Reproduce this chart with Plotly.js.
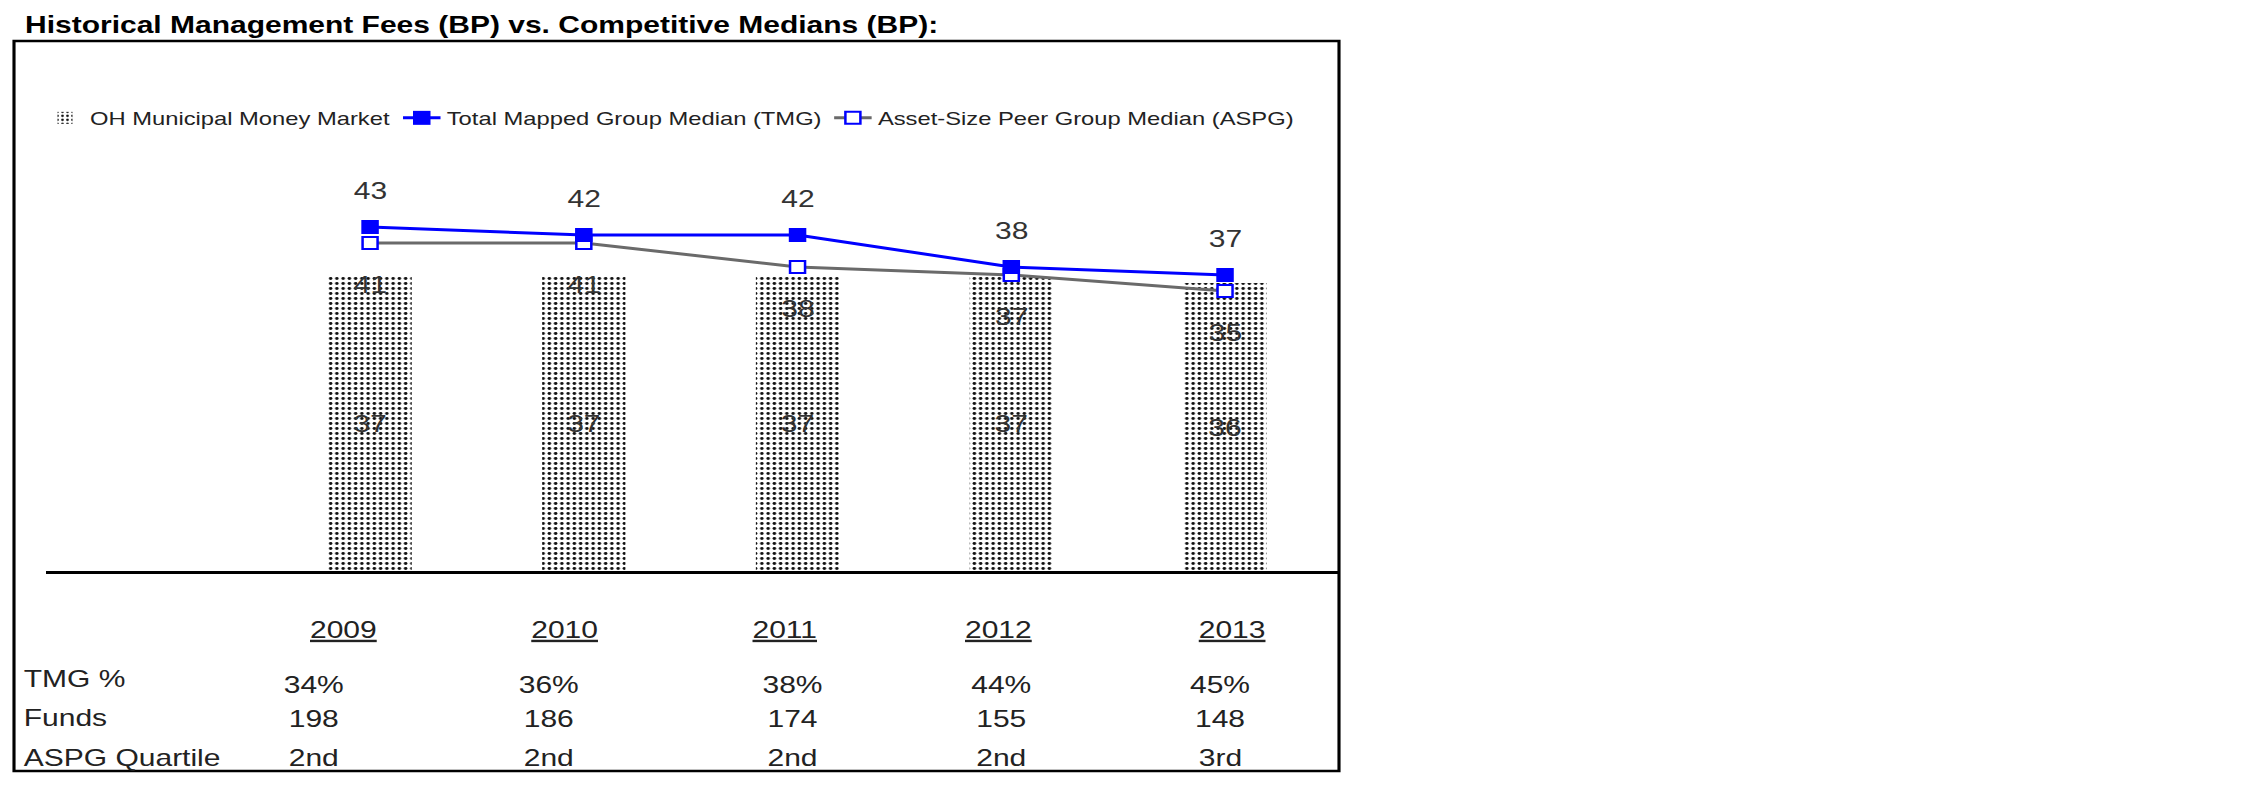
<!DOCTYPE html>
<html><head><meta charset="utf-8">
<script src="https://cdn.plot.ly/plotly-3.0.1.min.js"></script>
<style>
html,body{margin:0;padding:0;background:#fff;overflow:hidden;}
#wrap{width:2250px;height:796px;overflow:hidden;position:relative;}
#chart{width:1800px;height:796px;transform:scale(1.25,1);transform-origin:0 0;}
</style></head><body>
<div id="wrap"><div id="chart"></div></div>
<script>
// ---- data ----
const years = ['2009','2010','2011','2012','2013'];
const fundFees = [37, 37, 37, 37, 36];
const tmgMedian = [43, 42, 42, 38, 37];
const aspgMedian = [41, 41, 38, 37, 35];
const tmgPct = ['34%','36%','38%','44%','45%'];
const fundsCount = [198, 186, 174, 155, 148];
const aspgQuartile = ['2nd','2nd','2nd','2nd','3rd'];
const rowLabels = ['TMG %','Funds','ASPG Quartile'];
const seriesNames = ['OH Municipal Money Market','Total Mapped Group Median (TMG)','Asset-Size Peer Group Median (ASPG)'];
const chartTitle = 'Historical Management Fees (BP) vs. Competitive Medians (BP):';

// ---- layout helpers (page is stretched horizontally by SX) ----
const SX = 1.25, W = 1800, H = 796;
const PL = 37, PR = 1071, PT = 171, PB = 571;
const px = xf => (xf / SX - PL) / (PR - PL);
const py = yf => (PB - yf) / (PB - PT);
const FONT = 'Liberation Sans, Arial, sans-serif';
const TXT = '#222';

const yearShift = [-22, -16, -10, -11, 5];
const colShift = [-45, -28, -4, -8, -4];

const traces = [
  {
    type: 'bar', x: years, y: fundFees, name: seriesNames[0],
    text: fundFees.map(String), textposition: 'inside', insidetextanchor: 'middle', textangle: 0,
    insidetextfont: {family: FONT, size: 24, color: '#333'},
    marker: {color: '#fff', pattern: {shape: '.', fgcolor: '#111', bgcolor: '#fff', size: 5, solidity: 0.25}, line: {width: 0}},
    width: 0.39, legendrank: 1, hoverinfo: 'skip'
  },
  {
    type: 'scatter', mode: 'lines+markers', x: years, y: aspgMedian, name: seriesNames[2],
    line: {color: '#6a6a6a', width: 3},
    marker: {symbol: 'square', size: 12, color: '#fff', line: {color: '#0000ff', width: 2}},
    legendrank: 3, cliponaxis: false
  },
  {
    type: 'scatter', mode: 'lines+markers', x: years, y: tmgMedian, name: seriesNames[1],
    line: {color: '#0000ff', width: 3},
    marker: {symbol: 'square', size: 14, color: '#0000ff'},
    legendrank: 2, cliponaxis: false
  }
];

const ann = [];
const tf = {family: FONT, size: 24, color: TXT};
const lf = {family: FONT, size: 24, color: '#333'};
const base = {showarrow: false, yanchor: 'middle'};
years.forEach((yr, i) => {
  ann.push({...base, xref: 'x', x: i, yref: 'paper', y: py(629), text: '<u>' + yr + '</u>', xshift: yearShift[i], font: tf});
  ann.push({...base, xref: 'x', x: i, yref: 'y', y: tmgMedian[i], yshift: 37, text: String(tmgMedian[i]), font: lf});
  ann.push({...base, xref: 'x', x: i, yref: 'y', y: aspgMedian[i], yshift: -41, text: String(aspgMedian[i]), font: lf});
  ann.push({...base, xref: 'x', x: i, yref: 'paper', y: py(684), text: tmgPct[i], xshift: colShift[i], font: tf});
  ann.push({...base, xref: 'x', x: i, yref: 'paper', y: py(718), text: String(fundsCount[i]), xshift: colShift[i], font: tf});
  ann.push({...base, xref: 'x', x: i, yref: 'paper', y: py(757), text: aspgQuartile[i], xshift: colShift[i], font: tf});
});
const rowY = [678, 717, 757];
rowLabels.forEach((lab, j) => {
  ann.push({...base, xref: 'paper', x: px(21), xanchor: 'left', yref: 'paper', y: py(rowY[j]), text: lab, font: tf});
});

const layout = {
  width: W, height: H,
  margin: {l: PL, r: W - PR, t: PT, b: H - PB, pad: 0},
  paper_bgcolor: '#fff', plot_bgcolor: '#fff',
  font: {family: FONT, color: TXT},
  title: {text: '<b>' + chartTitle + '</b>', font: {family: FONT, size: 24, color: '#000'},
          xref: 'container', yref: 'container', x: 20 / W, xanchor: 'left', y: 1 - 25 / H, yanchor: 'middle'},
  showlegend: true,
  legend: {orientation: 'h', x: px(40), xanchor: 'left', y: py(118), yanchor: 'middle',
           font: {family: FONT, size: 19, color: TXT}, bgcolor: 'rgba(0,0,0,0)', borderwidth: 0},
  xaxis: {type: 'category', range: [-1.515, 4.532], showline: true, linecolor: '#000', linewidth: 3,
          showgrid: false, zeroline: false, showticklabels: false, ticks: '', fixedrange: true},
  yaxis: {range: [0, 50], visible: false, showgrid: false, zeroline: false, fixedrange: true},
  bargap: 0.6,
  shapes: [
    {type: 'rect', xref: 'paper', yref: 'paper', x0: px(14), x1: px(1339), y0: py(771), y1: py(41),
     line: {color: '#000', width: 2.5}, fillcolor: 'rgba(0,0,0,0)'}
  ],
  annotations: ann
};

Plotly.newPlot('chart', traces, layout, {displayModeBar: false, staticPlot: true});
</script>
</body></html>
